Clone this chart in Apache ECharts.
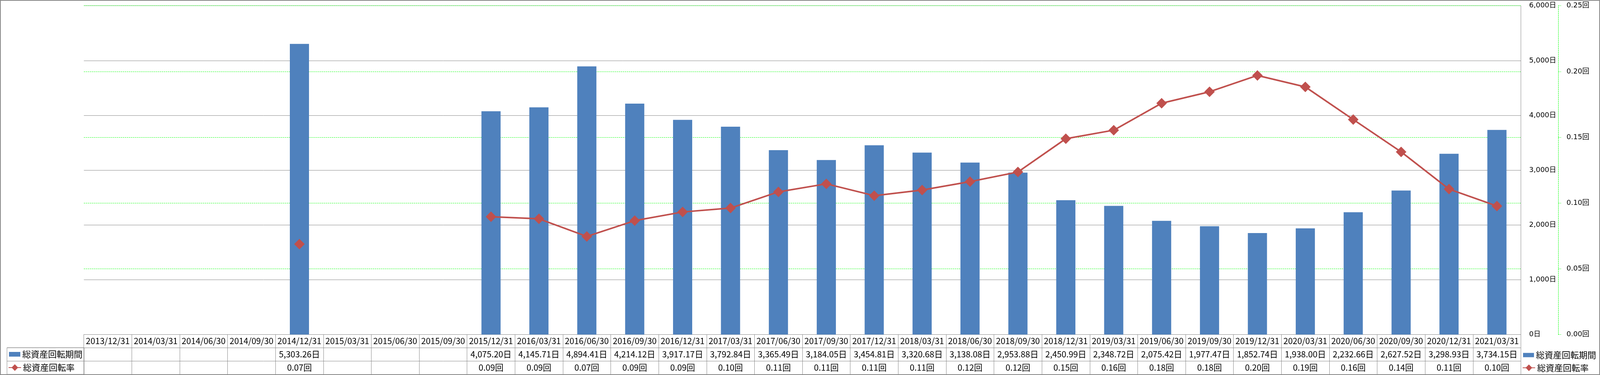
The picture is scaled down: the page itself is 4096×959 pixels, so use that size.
<!DOCTYPE html>
<html><head><meta charset="utf-8">
<script src="https://cdn.jsdelivr.net/npm/echarts@6/dist/echarts.min.js"></script>
<style>html,body{margin:0;padding:0;background:#fff}#c{width:4096px;height:959px}</style>
</head><body><div id="c"></div>
<script>
const categories = ['2013/12/31','2014/03/31','2014/06/30','2014/09/30','2014/12/31','2015/03/31','2015/06/30','2015/09/30','2015/12/31','2016/03/31','2016/06/30','2016/09/30','2016/12/31','2017/03/31','2017/06/30','2017/09/30','2017/12/31','2018/03/31','2018/06/30','2018/09/30','2018/12/31','2019/03/31','2019/06/30','2019/09/30','2019/12/31','2020/03/31','2020/06/30','2020/09/30','2020/12/31','2021/03/31'];
const periodDays = [null,null,null,null,5303.26,null,null,null,4075.20,4145.71,4894.41,4214.12,3917.17,3792.84,3365.49,3184.05,3454.81,3320.68,3138.08,2953.88,2450.99,2348.72,2075.42,1977.47,1852.74,1938.00,2232.66,2627.52,3298.93,3734.15];
const turnoverRate = [null,null,null,null,0.0688,null,null,null,0.0896,0.0880,0.0746,0.0866,0.0932,0.0962,0.1085,0.1146,0.1056,0.1099,0.1163,0.1236,0.1489,0.1554,0.1759,0.1846,0.1970,0.1883,0.1635,0.1389,0.1106,0.0977];
const seriesNames = ['総資産回転期間','総資産回転率'];
const dayUnit = '日', rateUnit = '回';
const dayAxis = {min:0, max:6000, interval:1000};
const rateAxis = {min:0, max:0.25, interval:0.05};

const S = 0.639;
const GRAY = '#888888', GREEN = '#00ff00';
const BLUE = '#4F81BD', RED = '#C0504D';
const tableFont = "'Noto Sans CJK JP', sans-serif";
const axisFont = "'DejaVu Sans', 'Noto Sans CJK JP', sans-serif";

const fmtDays = v => v.toLocaleString('en-US',{minimumFractionDigits:2,maximumFractionDigits:2}) + dayUnit;
const fmtRate = v => v.toFixed(2) + rateUnit;

const cellData = [], cellText = [];
categories.forEach((c,i)=>{
  cellData.push([i,0]); cellText.push(c);
  if (periodDays[i]!=null){cellData.push([i,1]); cellText.push(fmtDays(periodDays[i]));}
  if (turnoverRate[i]!=null){cellData.push([i,2]); cellText.push(fmtRate(turnoverRate[i]));}
});

const plotL = 336*S, plotR = 4096 - 6093*S, plotT = 23*S, plotB = 959 - 1339*S;
const tblT = 1338*S, tblH = (1498-1338)*S;
const rowH = tblH/3;

const chart = echarts.init(document.getElementById('c'), null, {renderer:'canvas'});
const legendText = {fontSize:22, fontFamily:tableFont, color:'#000', lineHeight:22};
chart.setOption({
  animation:false,
  backgroundColor:'#fff',
  grid:[
    {left:plotL, right:plotR, top:plotT, bottom:plotB},
    {left:plotL, right:plotR, top:tblT, height:tblH},
    {left:28*S, width:(337-28)*S, top:tblT+rowH, height:rowH*2, show:true, borderColor:GRAY, borderWidth:1, backgroundColor:'transparent'}
  ],
  xAxis:[
    {type:'category', gridIndex:0, data:categories, show:false},
    {type:'category', gridIndex:1, data:categories, axisLine:{show:false}, axisTick:{show:false}, axisLabel:{show:false},
     splitLine:{show:true, interval:0, lineStyle:{color:GRAY, width:1}}},
    {type:'category', gridIndex:2, data:['legend'], show:false}
  ],
  yAxis:[
    {type:'value', gridIndex:0, position:'right', min:dayAxis.min, max:dayAxis.max, interval:dayAxis.interval,
     axisLine:{show:true, lineStyle:{color:GRAY, width:1}}, axisTick:{show:false},
     axisLabel:{margin:33*S, color:'#000', fontSize:18, fontFamily:axisFont, formatter:v=>v.toLocaleString('en-US')+dayUnit},
     splitLine:{show:true, lineStyle:{color:GRAY, width:1}}},
    {type:'value', gridIndex:0, position:'right', offset:150*S, min:rateAxis.min, max:rateAxis.max, interval:rateAxis.interval,
     axisLine:{show:true, lineStyle:{color:GREEN, width:1, type:[3,2]}},
     axisTick:{show:true, inside:false, length:7, lineStyle:{color:GREEN, width:1, type:[3,2]}},
     axisLabel:{margin:33*S, color:'#000', fontSize:18, fontFamily:axisFont, formatter:v=>v.toFixed(2)+rateUnit},
     splitLine:{show:true, lineStyle:{color:GREEN, width:1, type:[3,2]}}},
    {type:'category', gridIndex:1, data:['date',seriesNames[0],seriesNames[1]], inverse:true,
     axisLine:{show:false}, axisTick:{show:false}, axisLabel:{show:false},
     splitLine:{show:true, interval:0, lineStyle:{color:GRAY, width:1}}},
    {type:'category', gridIndex:2, data:seriesNames, inverse:true,
     axisLine:{show:false}, axisTick:{show:false}, axisLabel:{show:false},
     splitLine:{show:true, interval:0, lineStyle:{color:GRAY, width:1}}}
  ],
  legend:[
    {data:[{name:seriesNames[0], icon:'rect'}], left:23, top:906-11, padding:0, itemWidth:29, itemHeight:12, textStyle:legendText, selectedMode:false},
    {data:[seriesNames[1]], left:21, top:940-11, padding:0, itemWidth:32, itemHeight:21, textStyle:legendText, selectedMode:false},
    {data:[{name:seriesNames[0], icon:'rect'}], left:3899, top:908-11, padding:0, itemWidth:28, itemHeight:11, textStyle:legendText, selectedMode:false},
    {data:[seriesNames[1]], left:3897, top:940.5-11, padding:0, itemWidth:32, itemHeight:21, textStyle:legendText, selectedMode:false}
  ],
  series:[
    {name:seriesNames[0], type:'bar', xAxisIndex:0, yAxisIndex:0, data:periodDays, barWidth:'40%',
     itemStyle:{color:BLUE}},
    {name:seriesNames[1], type:'line', xAxisIndex:0, yAxisIndex:1, data:turnoverRate, connectNulls:false,
     symbol:'diamond', symbolSize:27, showAllSymbol:true,
     lineStyle:{color:RED, width:4}, itemStyle:{color:RED}, z:5},
    {type:'custom', xAxisIndex:1, yAxisIndex:2, data:cellData, encode:{x:0,y:1}, silent:true,
     renderItem:function(params, api){
       const p = api.coord([api.value(0), api.value(1)]);
       return {type:'text', x:p[0], y:p[1],
         style:{text:cellText[params.dataIndex], align:'center', verticalAlign:'middle',
                fontSize:21.5, fontFamily:tableFont, fill:'#000'}};
     }}
  ],
  graphic:[
    {type:'rect', silent:true, z:100, shape:{x:1, y:1, width:4094, height:957},
     style:{fill:'none', stroke:GRAY, lineWidth:2}}
  ]
});
</script></body></html>
